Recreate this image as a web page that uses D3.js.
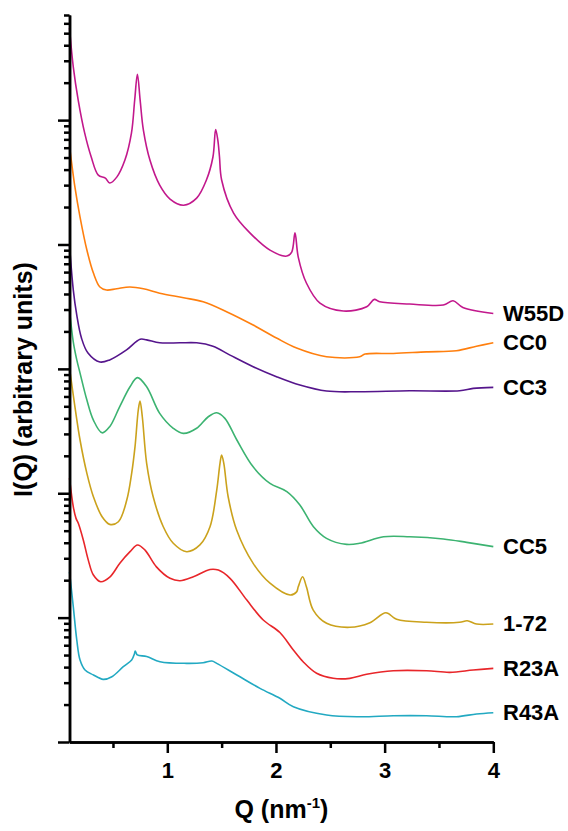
<!DOCTYPE html>
<html><head><meta charset="utf-8">
<script src="https://cdn.jsdelivr.net/npm/d3@7"></script>
<style>
body{margin:0;background:#fff}
svg{display:block}
text{font-family:"Liberation Sans",Arial,sans-serif;font-weight:bold;fill:#000}
</style>
</head><body>
<svg id="chart" width="568" height="831"></svg>
<script>
// ---- data (Q in nm^-1, I(Q) in arbitrary units, offset curves) ----
const Q_W55D = [0.10,0.135,0.18,0.24,0.30,0.365,0.43,0.47,0.535,0.61,0.67,0.70,0.725,0.75,0.78,0.84,0.93,1.025,1.15,1.27,1.36,1.42,1.445,1.465,1.48,1.50,1.61,1.76,1.945,2.10,2.145,2.175,2.205,2.28,2.405,2.62,2.835,2.905,2.955,3.23,3.54,3.63,3.72,4.0];
const I_W55D = [5.5e5,2.67e5,1.45e5,7.85e4,5.05e4,3.61e4,3.42e4,3.12e4,3.48e4,4.77e4,7.85e4,1.45e5,2.34e5,1.45e5,8.3e4,4.77e4,3.0e4,2.32e4,2.07e4,2.36e4,3.30e4,5.05e4,8.4e4,6.9e4,5.1e4,3.30e4,1.79e4,1.24e4,9.0e3,8.07e3,8.69e3,1.24e4,7.92e3,4.90e3,3.38e3,2.92e3,3.16e3,3.62e3,3.46e3,3.32e3,3.26e3,3.53e3,3.12e3,2.79e3];

const Q_CC0 = [0.10,0.15,0.197,0.26,0.32,0.38,0.44,0.535,0.655,0.78,0.93,1.15,1.33,1.545,1.79,2.005,2.19,2.465,2.77,2.82,3.08,3.385,3.66,3.845,4.0];
const I_CC0 = [6.18e4,2.89e4,1.66e4,9.02e3,5.89e3,4.55e3,4.30e3,4.41e3,4.55e3,4.41e3,4.06e3,3.73e3,3.46e3,2.88e3,2.25e3,1.77e3,1.47e3,1.25e3,1.25e3,1.315e3,1.33e3,1.37e3,1.40e3,1.52e3,1.62e3];

const Q_CC3 = [0.10,0.135,0.167,0.21,0.27,0.38,0.47,0.625,0.75,0.81,0.93,1.117,1.27,1.42,1.577,1.79,2.005,2.22,2.465,2.77,3.23,3.69,3.815,4.0];
const I_CC3 = [9.89e3,4.30e3,2.70e3,1.77e3,1.34e3,1.135e3,1.18e3,1.42e3,1.73e3,1.71e3,1.62e3,1.62e3,1.62e3,1.52e3,1.29e3,1.04e3,865,741,663,655,667,667,697,710];

const Q_CC5 = [0.10,0.135,0.167,0.197,0.26,0.32,0.40,0.47,0.56,0.657,0.725,0.81,0.93,1.055,1.147,1.27,1.377,1.455,1.53,1.64,1.79,1.945,2.10,2.22,2.345,2.465,2.65,2.77,2.99,3.23,3.54,3.755,4.0];
const I_CC5 = [2.97e3,1.64e3,1.18e3,925,561,387,306,343,493,718,851,718,439,333,303,333,412,444,400,268,163,120,103,80.4,53.8,43.4,38.8,39.6,44.7,44.7,42.9,40.3,37.2];

const Q_172 = [0.10,0.15,0.197,0.26,0.32,0.40,0.47,0.55,0.627,0.672,0.703,0.733,0.749,0.77,0.81,0.87,0.963,1.055,1.178,1.30,1.393,1.455,1.485,1.50,1.52,1.56,1.638,1.79,1.945,2.13,2.19,2.205,2.245,2.28,2.343,2.466,2.68,2.865,3.012,3.11,3.386,3.69,3.76,3.846,4.0];
const I_172 = [1014,495,268,144.5,93.7,64.7,56.2,59.0,88.1,144.5,237,467,551,412,174,93.7,53.8,39.6,33.9,38.4,53.8,106,174,203,174,93.7,50.6,27.3,18.9,15.2,16.1,17.7,21.3,17.7,11.5,9.0,8.36,9.10,10.95,9.69,9.17,9.17,9.44,8.88,8.88];

const Q_R23A = [0.10,0.135,0.16,0.181,0.227,0.273,0.32,0.387,0.473,0.565,0.657,0.726,0.795,0.90,1.025,1.117,1.24,1.393,1.47,1.577,1.73,1.883,2.036,2.16,2.25,2.374,2.527,2.68,2.834,3.08,3.386,3.60,3.815,4.0];
const I_R23A = [132.5,77.8,62.8,57.3,42.1,29.0,22.0,19.45,21.3,27.5,33.9,38.4,34.9,25.6,20.7,19.8,21.3,24.4,24.1,20.7,13.9,9.57,7.59,5.49,4.42,3.57,3.25,3.25,3.50,3.74,3.74,3.63,3.79,3.91];

const Q_R43A = [0.10,0.135,0.167,0.197,0.243,0.32,0.41,0.49,0.595,0.672,0.697,0.705,0.724,0.81,0.933,1.178,1.33,1.41,1.455,1.64,1.853,2.036,2.16,2.466,2.773,3.08,3.386,3.66,3.846,4.0];
const I_R43A = [23.3,12.2,6.61,4.56,3.79,3.46,3.19,3.35,4.03,4.56,5.10,5.39,5.01,4.87,4.42,4.29,4.34,4.48,4.29,3.46,2.70,2.245,1.92,1.648,1.597,1.627,1.627,1.597,1.68,1.72];

const seriesNames  = ["W55D","CC0","CC3","CC5","1-72","R23A","R43A"];
const seriesQ      = [Q_W55D,Q_CC0,Q_CC3,Q_CC5,Q_172,Q_R23A,Q_R43A];
const seriesI      = [I_W55D,I_CC0,I_CC3,I_CC5,I_172,I_R23A,I_R43A];
const seriesColors = ["#c2188c","#ff7f0e","#55158c","#3cb371","#cba21c","#e8262a","#22a9c2"];

const xMajorTicks = [1,2,3,4];
const xMinorTicks = [0.5,1.5,2.5,3.5];
const yMajorTicks = [1,10,100,1e3,1e4,1e5];
const yMinorTicks = [];
for (const d of [1,10,100,1e3,1e4,1e5]) for (let k=2;k<=9;k++) if (k*d<=7e5) yMinorTicks.push(k*d);

// ---- chart ----
const svg = d3.select("#chart");
const x = d3.scaleLinear().domain([0.1,4]).range([69.5,493.3]);
const y = d3.scaleLog().domain([1,7e5]).range([742,15]);

const line = d3.line().x(d=>x(d[0])).y(d=>y(d[1])).curve(d3.curveCatmullRom.alpha(0.5));

seriesNames.forEach((name,i)=>{
  const pts = seriesQ[i].map((q,j)=>[q, seriesI[i][j]]);
  svg.append("path").datum(pts)
    .attr("d", line).attr("fill","none")
    .attr("stroke", seriesColors[i]).attr("stroke-width",1.6)
    .attr("stroke-linejoin","round");
  const last = pts[pts.length-1];
  svg.append("text").attr("x",503).attr("y",y(last[1])).attr("dy","0.33em")
    .style("font-size","22px").text(name);
});

function styleAxis(g){
  g.selectAll("path,line").attr("stroke","#000").attr("stroke-width",2.5);
}
// y axis
svg.append("g").attr("transform","translate(69.5,0)")
  .call(d3.axisLeft(y).tickValues(yMinorTicks).tickSize(5.5).tickSizeOuter(0).tickFormat(""))
  .call(styleAxis);
svg.append("g").attr("transform","translate(69.5,0)")
  .call(d3.axisLeft(y).tickValues(yMajorTicks).tickSize(11.5).tickSizeOuter(0).tickFormat(""))
  .call(styleAxis);
// x axis
svg.append("g").attr("transform","translate(0,742)")
  .call(d3.axisBottom(x).tickValues(xMinorTicks).tickSize(6).tickSizeOuter(0).tickFormat(""))
  .call(styleAxis);
const gx = svg.append("g").attr("transform","translate(0,742)")
  .call(d3.axisBottom(x).tickValues(xMajorTicks).tickSize(11).tickSizeOuter(0).tickPadding(9).tickFormat(d3.format("d")))
  .call(styleAxis);
gx.selectAll("text").style("font-size","22px").attr("fill","#000")
  .style("font-family","'Liberation Sans',Arial,sans-serif").style("font-weight","bold");

// titles
const xt = svg.append("text").attr("x",281.4).attr("y",818).attr("text-anchor","middle").style("font-size","25px");
xt.append("tspan").text("Q (nm");
xt.append("tspan").attr("dy",-10).style("font-size","15px").text("-1");
xt.append("tspan").attr("dy",10).text(")");

svg.append("text").attr("transform","translate(32,379.5) rotate(-90)")
  .attr("text-anchor","middle").style("font-size","25px").text("I(Q) (arbitrary units)");
</script>
</body></html>
